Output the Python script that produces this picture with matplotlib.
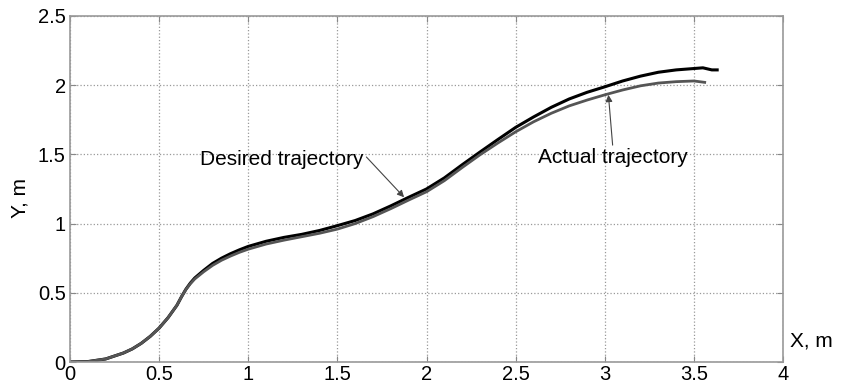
import matplotlib.pyplot as plt

plt.rcParams['font.family'] = ['Liberation Sans', 'DejaVu Sans']

# desired trajectory (black)
x_des = [0, 0.1, 0.2, 0.3, 0.35, 0.4, 0.45, 0.5, 0.55, 0.6, 0.625, 0.65, 0.675, 0.7, 0.75,
         0.8, 0.85, 0.9, 0.95, 1.0, 1.1, 1.2, 1.3,
         1.4, 1.5, 1.6, 1.7, 1.8, 1.9, 2.0, 2.1, 2.2, 2.3, 2.4, 2.5, 2.6, 2.7, 2.8, 2.9,
         3.0, 3.1, 3.2, 3.3, 3.4, 3.5, 3.55, 3.6, 3.63]
y_des = [0, 0.003, 0.022, 0.065, 0.095, 0.135, 0.185, 0.245, 0.32, 0.41, 0.47, 0.525, 0.57, 0.607, 0.662,
         0.712, 0.75, 0.782, 0.81, 0.835, 0.872, 0.90, 0.922,
         0.95, 0.985, 1.022, 1.07, 1.128, 1.19, 1.25, 1.33, 1.425, 1.517, 1.607, 1.695, 1.77, 1.84, 1.90, 1.948,
         1.988, 2.03, 2.065, 2.093, 2.11, 2.12, 2.125, 2.11, 2.11]

# actual trajectory (gray)
x_act = [0, 0.1, 0.2, 0.3, 0.35, 0.4, 0.45, 0.5, 0.55, 0.6, 0.625, 0.65, 0.675, 0.7, 0.75,
         0.8, 0.85, 0.9, 0.95, 1.0, 1.1, 1.2, 1.3,
         1.4, 1.5, 1.6, 1.7, 1.8, 1.9, 2.0, 2.1, 2.2, 2.3, 2.4, 2.5, 2.6, 2.7, 2.8, 2.9,
         3.0, 3.1, 3.2, 3.3, 3.4, 3.5, 3.56]
y_act = [0, 0.003, 0.022, 0.065, 0.095, 0.135, 0.185, 0.245, 0.32, 0.41, 0.47, 0.523, 0.565, 0.6, 0.652,
         0.698, 0.735, 0.765, 0.792, 0.815, 0.852, 0.88, 0.905,
         0.93, 0.96, 1.0, 1.05, 1.108, 1.17, 1.23, 1.31, 1.405, 1.497, 1.582, 1.663, 1.735, 1.797, 1.85, 1.892,
         1.93, 1.965, 1.995, 2.015, 2.025, 2.03, 2.02]

xticks = [0, 0.5, 1, 1.5, 2, 2.5, 3, 3.5, 4]
yticks = [0, 0.5, 1, 1.5, 2, 2.5]

fig = plt.figure(figsize=(8.42, 3.88), dpi=100)
ax = fig.add_axes([0.0831, 0.067, 0.847, 0.892])

ax.plot(x_des, y_des, color='black', lw=2.2, solid_joinstyle='round')
ax.plot(x_act, y_act, color='#555555', lw=2.0, solid_joinstyle='round')

ax.set_xlim(0, 4)
ax.set_ylim(0, 2.5)
ax.set_xticks(xticks)
ax.set_yticks(yticks)
ax.set_xticklabels(['0', '0.5', '1', '1.5', '2', '2.5', '3', '3.5', '4'])
ax.set_yticklabels(['0', '0.5', '1', '1.5', '2', '2.5'])
ax.tick_params(direction='in', length=4, width=0.8, color='#888888',
               labelsize=14.5, pad=2, top=True, right=True)
ax.tick_params(axis='y', pad=3)
ax.grid(True, linestyle=':', color='#999999', lw=0.9)
for s in ax.spines.values():
    s.set_color('#999999')
    s.set_linewidth(1.2)

ax.text(4.04, 0.15, 'X, m', fontsize=15, va='center', ha='left')
fig.text(0.024, 0.49, 'Y, m', fontsize=15, rotation=90, va='center', ha='center')

ax.annotate('Desired trajectory', xy=(1.874, 1.19), xytext=(0.73, 1.46),
            fontsize=15, va='center', ha='left',
            arrowprops=dict(arrowstyle='-|>', color='#444444', lw=0.8,
                            shrinkA=0, shrinkB=0, mutation_scale=10,
                            relpos=(0.99, 0.9)))
ax.annotate('Actual trajectory', xy=(3.02, 1.93), xytext=(2.625, 1.478),
            fontsize=15, va='center', ha='left',
            arrowprops=dict(arrowstyle='-|>', color='#444444', lw=0.8,
                            shrinkA=0, shrinkB=0, mutation_scale=10,
                            relpos=(0.5, 1.0)))

fig.savefig('out.png', dpi=100)
